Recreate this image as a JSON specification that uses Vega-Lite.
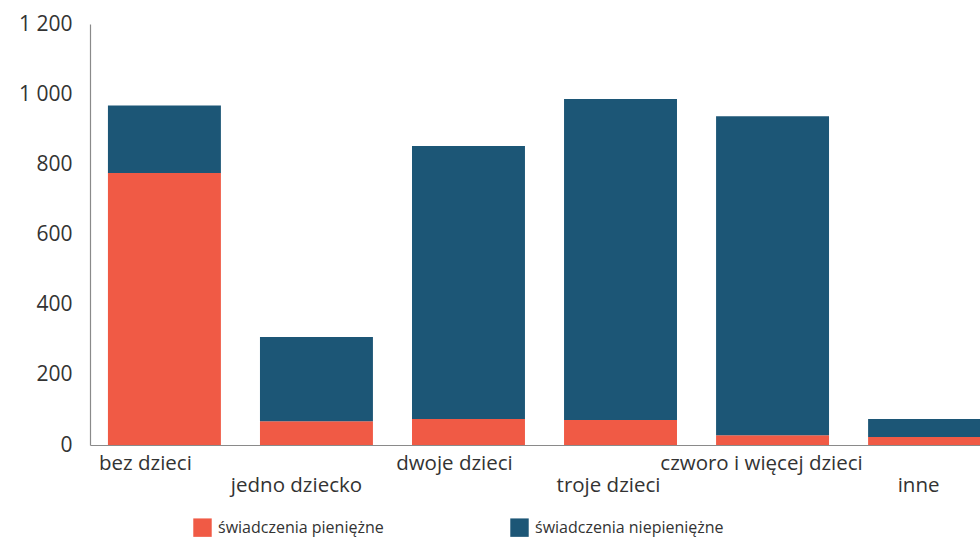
{
  "$schema": "https://vega.github.io/schema/vega-lite/v6.json",
  "width": 909,
  "height": 421,
  "autosize": {"type": "none"},
  "padding": {"left": 90, "top": 24, "right": 0, "bottom": 99},
  "background": "white",
  "config": {"view": {"stroke": null}, "font": "Open Sans"},
  "data": {
    "values": [
      {"kategoria": "bez dzieci", "rodzaj": "świadczenia pieniężne", "wartosc": 775},
      {"kategoria": "bez dzieci", "rodzaj": "świadczenia niepieniężne", "wartosc": 193},
      {"kategoria": "jedno dziecko", "rodzaj": "świadczenia pieniężne", "wartosc": 68},
      {"kategoria": "jedno dziecko", "rodzaj": "świadczenia niepieniężne", "wartosc": 240},
      {"kategoria": "dwoje dzieci", "rodzaj": "świadczenia pieniężne", "wartosc": 74},
      {"kategoria": "dwoje dzieci", "rodzaj": "świadczenia niepieniężne", "wartosc": 778},
      {"kategoria": "troje dzieci", "rodzaj": "świadczenia pieniężne", "wartosc": 71},
      {"kategoria": "troje dzieci", "rodzaj": "świadczenia niepieniężne", "wartosc": 915},
      {"kategoria": "czworo i więcej dzieci", "rodzaj": "świadczenia pieniężne", "wartosc": 28},
      {"kategoria": "czworo i więcej dzieci", "rodzaj": "świadczenia niepieniężne", "wartosc": 909},
      {"kategoria": "inne", "rodzaj": "świadczenia pieniężne", "wartosc": 23},
      {"kategoria": "inne", "rodzaj": "świadczenia niepieniężne", "wartosc": 51}
    ]
  },
  "mark": {"type": "bar"},
  "encoding": {
    "x": {
      "field": "kategoria",
      "type": "nominal",
      "sort": null,
      "scale": {"paddingInner": 0.257, "paddingOuter": 0.118},
      "axis": {
        "title": null,
        "labelAngle": 0,
        "labelFontSize": 20.5,
        "labelFontWeight": 500,
        "labelColor": "#333333",
        "labelPadding": {
          "condition": {"test": "indexof(['jedno dziecko','troje dzieci','inne'], datum.value) >= 0", "value": 30},
          "value": 8
        },
        "labelOffset": {
          "condition": [
            {"test": "datum.value == 'bez dzieci'", "value": -19},
            {"test": "datum.value == 'jedno dziecko'", "value": -20},
            {"test": "datum.value == 'dwoje dzieci'", "value": -14},
            {"test": "datum.value == 'troje dzieci'", "value": -12},
            {"test": "datum.value == 'czworo i więcej dzieci'", "value": -11}
          ],
          "value": -6
        },
        "labelBaseline": "top",
        "labelLimit": 300,
        "ticks": false,
        "domainColor": "#8a8a8a",
        "domainWidth": 1.2
      }
    },
    "y": {
      "field": "wartosc",
      "type": "quantitative",
      "stack": "zero",
      "scale": {"domain": [0, 1200], "nice": false},
      "axis": {
        "title": null,
        "values": [0, 200, 400, 600, 800, 1000, 1200],
        "labelExpr": "replace(format(datum.value, ','), ',', ' ')",
        "labelFontSize": 21,
        "labelFontWeight": 500,
        "labelColor": "#333333",
        "labelPadding": 18,
        "ticks": false,
        "grid": false,
        "domainColor": "#8a8a8a",
        "domainWidth": 1.2
      }
    },
    "color": {
      "field": "rodzaj",
      "type": "nominal",
      "scale": {
        "domain": ["świadczenia pieniężne", "świadczenia niepieniężne"],
        "range": ["#f05a45", "#1c5676"]
      },
      "legend": {
        "title": null,
        "orient": "none",
        "direction": "horizontal",
        "legendX": 103,
        "legendY": 494,
        "symbolType": "square",
        "symbolSize": 340,
        "symbolStrokeWidth": 0,
        "labelFontSize": 16,
        "labelFontWeight": 500,
        "labelColor": "#333333",
        "labelOffset": 6,
        "labelLimit": 300,
        "columnPadding": 126
      }
    },
    "order": {"field": "rodzaj", "sort": "descending"}
  }
}
